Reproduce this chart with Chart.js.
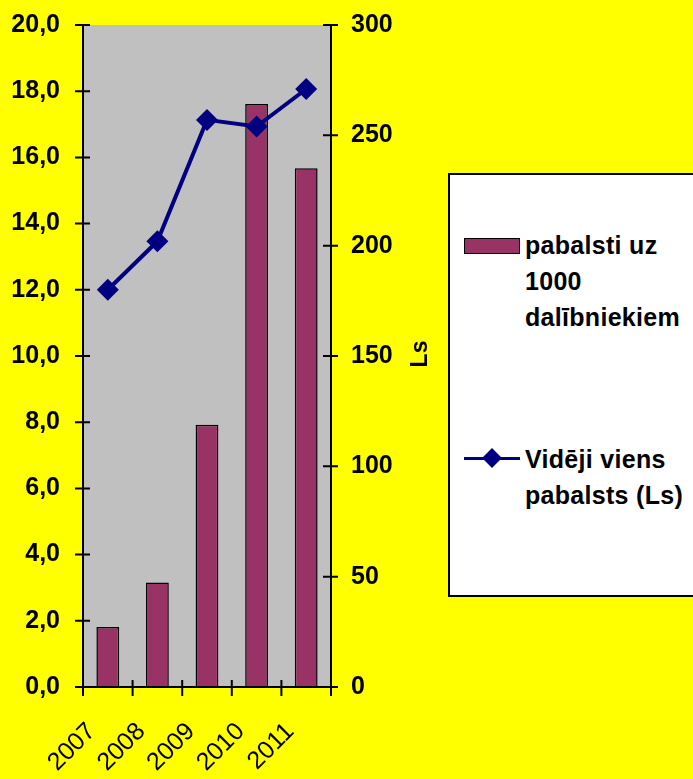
<!DOCTYPE html>
<html>
<head>
<meta charset="utf-8">
<script src="https://cdn.jsdelivr.net/npm/chart.js@4.4.1/dist/chart.umd.min.js"></script>
<style>
  html, body { margin: 0; padding: 0; background: #ffff00; overflow: hidden; }
  #wrap { position: relative; width: 693px; height: 779px; overflow: hidden; }
  #myChart { position: absolute; left: 0; top: -10px; }
  #legend {
    position: absolute; left: 448px; top: 173px; width: 270px; height: 424px;
    background: #fff; border: 2px solid #000; box-sizing: border-box;
    font-family: "Liberation Sans", Arial, sans-serif; font-weight: bold; font-size: 25px;
    color: #000;
  }
  .item { position: absolute; left: 14px; display: flex; align-items: flex-start; }
  .txt { line-height: 36px; letter-spacing: 0.3px; }
  .swatch { width: 54px; height: 14px; background: #993366; border: 1px solid #000; margin: 11px 5px 0 0; }
  .lsym { position: relative; width: 56px; height: 36px; margin-right: 5px; }
  .lsym .ln { position: absolute; left: 0; right: 0; top: 16px; height: 3px; background: #000080; }
  .lsym .dm { position: absolute; left: 21px; top: 10px; width: 14px; height: 14px; background: #000080; transform: rotate(45deg); }
</style>
</head>
<body>
<div id="wrap">
  <canvas id="myChart" width="693" height="789"></canvas>
  <div id="legend">
    <div class="item" style="top:52px"><div class="swatch"></div><div class="txt">pabalsti uz<br>1000<br>dalībniekiem</div></div>
    <div class="item" style="top:266px"><div class="lsym"><div class="ln"></div><div class="dm"></div></div><div class="txt">Vidēji viens<br>pabalsts (Ls)</div></div>
  </div>
</div>
<script>
let years = ['2007', '2008', '2009', '2010', '2011'];
let perThousand = [1.81, 3.16, 7.92, 17.61, 15.67];
let avgBenefit = [180, 202, 257, 254, 271];
let leftTicks = [0, 2, 4, 6, 8, 10, 12, 14, 16, 18, 20];
let rightTicks = [0, 50, 100, 150, 200, 250, 300];

const FONT = "'Liberation Sans', Arial, sans-serif";

// gray plot area + ticks that cross the axis lines + rotated "Ls" title
const plotDeco = {
    id: 'plotDeco',
    beforeDatasetsDraw(chart) {
        let a = chart.chartArea, c = chart.ctx;
        c.save();
        c.fillStyle = '#c0c0c0';
        c.fillRect(a.left, a.top, a.right - a.left, a.bottom - a.top);
        c.restore();
    },
    afterDraw(chart) {
        let a = chart.chartArea, c = chart.ctx;
        c.save();
        c.strokeStyle = '#000';
        c.lineWidth = 2;
        c.beginPath();
        chart.scales.y.ticks.forEach((t, i) => {
            let py = chart.scales.y.getPixelForTick(i);
            c.moveTo(a.left - 8, py); c.lineTo(a.left + 7, py);
        });
        chart.scales.y2.ticks.forEach((t, i) => {
            let py = chart.scales.y2.getPixelForTick(i);
            c.moveTo(a.right - 8, py); c.lineTo(a.right + 7, py);
        });
        let step = (a.right - a.left) / years.length;
        for (let i = 0; i <= years.length; i++) {
            let px = a.left + i * step;
            c.moveTo(px, a.bottom - 7); c.lineTo(px, a.bottom + 9);
        }
        c.moveTo(a.left, a.top); c.lineTo(a.left, a.bottom); c.lineTo(a.right, a.bottom); c.lineTo(a.right, a.top);
        c.stroke();
        c.translate(421, 364);
        c.rotate(-Math.PI / 2);
        c.fillStyle = '#000';
        c.font = 'bold 23px ' + FONT;
        c.textAlign = 'center';
        c.textBaseline = 'middle';
        c.fillText('Ls', 0, 0);
        c.restore();
    }
};

let ctx = document.getElementById('myChart').getContext('2d');
let chart = new Chart(ctx, {
    type: 'bar',
    data: {
        labels: years,
        datasets: [
            {
                type: 'line',
                label: 'Vidēji viens pabalsts (Ls)',
                data: avgBenefit,
                yAxisID: 'y2',
                borderColor: '#000080',
                backgroundColor: '#000080',
                borderWidth: 4,
                pointStyle: 'rectRot',
                pointRadius: 11,
                pointBorderWidth: 0,
                tension: 0,
                order: 0
            },
            {
                label: 'pabalsti uz 1000 dalībniekiem',
                data: perThousand,
                yAxisID: 'y',
                backgroundColor: '#993366',
                borderColor: '#000',
                borderWidth: 1.5,
                categoryPercentage: 1,
                barPercentage: 0.46,
                order: 1
            }
        ]
    },
    options: {
        responsive: false,
        animation: false,
        layout: { padding: { top: 35, left: 0, right: 252, bottom: 0 } },
        plugins: { legend: { display: false }, tooltip: { enabled: false } },
        scales: {
            x: {
                grid: { display: false },
                border: { display: false },
                ticks: {
                    color: '#000', font: { family: FONT, size: 25 },
                    maxRotation: 45, minRotation: 45, padding: 22, labelOffset: -16
                },
                afterFit(s) { s.height = 92; }
            },
            y: {
                position: 'left',
                min: 0, max: 20,
                afterBuildTicks(s) { s.ticks = leftTicks.map(v => ({ value: v })); },
                grid: { display: false },
                border: { display: false },
                ticks: {
                    color: '#000', font: { family: FONT, size: 25, weight: 'bold' }, padding: 15,
                    callback: v => v.toFixed(1).replace('.', ',')
                },
                afterFit(s) { s.width = 83; }
            },
            y2: {
                position: 'right',
                min: 0, max: 300,
                afterBuildTicks(s) { s.ticks = rightTicks.map(v => ({ value: v })); },
                grid: { display: false },
                border: { display: false },
                ticks: { color: '#000', font: { family: FONT, size: 25, weight: 'bold' }, padding: 12 },
                afterFit(s) { s.width = 110; }
            }
        }
    },
    plugins: [plotDeco]
});
</script>
</body>
</html>
